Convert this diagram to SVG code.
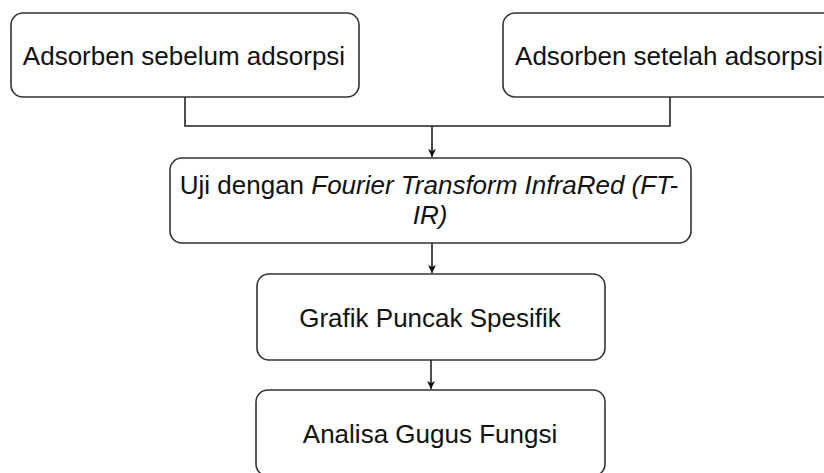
<svg xmlns="http://www.w3.org/2000/svg" width="824" height="473" viewBox="0 0 824 473">
<defs>
<marker id="ah" markerWidth="10" markerHeight="10" refX="9" refY="5" orient="auto" markerUnits="userSpaceOnUse">
<path d="M1,1 L9,5 L1,9 L3,5 Z" fill="#111"/>
</marker>
<style>
.box{fill:#fff;stroke:#333;stroke-width:1.6}
.t{font-family:"Liberation Sans",Arial,sans-serif;font-size:26px;fill:#111;text-anchor:middle}
.i{font-style:italic}
.c{fill:none;stroke:#222;stroke-width:1.6}
</style>
</defs>
<rect width="824" height="473" fill="#fff"/>
<g id="n1"><rect class="box" x="11" y="13" width="348" height="84" rx="12"/><text class="t" x="184" y="65">Adsorben sebelum adsorpsi</text></g>
<g id="n2"><rect class="box" x="503" y="13" width="334" height="84" rx="12"/><text class="t" x="669" y="65">Adsorben setelah adsorpsi</text></g>
<g id="n3"><rect class="box" x="170" y="158" width="521" height="85" rx="12"/><text class="t" x="429" y="194">Uji dengan <tspan class="i">Fourier Transform InfraRed (FT-</tspan></text><text class="t i" x="430" y="224">IR)</text></g>
<g id="n4"><rect class="box" x="257" y="274" width="348" height="86" rx="12"/><text class="t" x="430" y="327">Grafik Puncak Spesifik</text></g>
<g id="n5"><rect class="box" x="256" y="390" width="349" height="86" rx="12"/><text class="t" x="430" y="443">Analisa Gugus Fungsi</text></g>
<g id="connectors">
<path class="c" d="M185,97 V126 H670 V97"/>
<path class="c" d="M432,126 V157" marker-end="url(#ah)"/>
<path class="c" d="M432,243 V273" marker-end="url(#ah)"/>
<path class="c" d="M431,360 V389" marker-end="url(#ah)"/>
</g>
</svg>
